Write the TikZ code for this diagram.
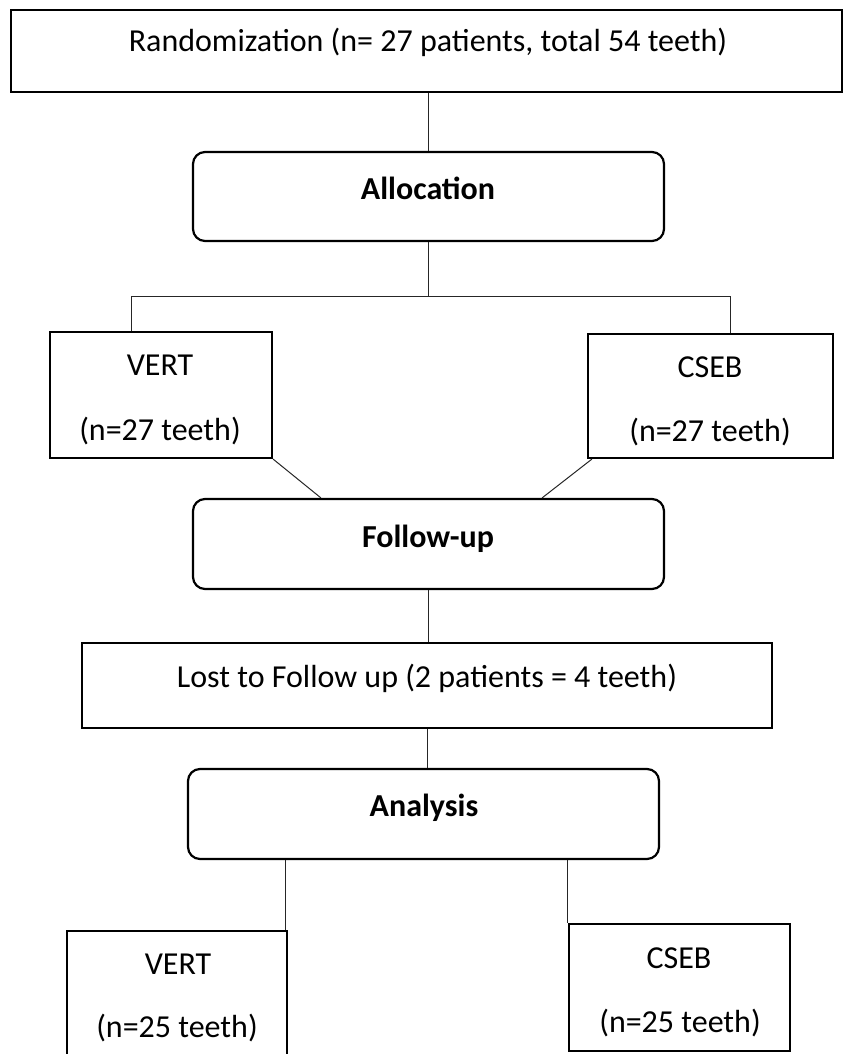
\documentclass[tikz,border=0pt]{standalone}
\usepackage{fontspec}
\setmainfont{Carlito}
\begin{document}
\begin{tikzpicture}[x=1pt,y=-1pt,
  box/.style={draw=black,line width=2.2pt,inner sep=0pt,fill=none},
  rbox/.style={box,rounded corners=12pt},
  txt/.style={anchor=base,inner sep=0pt,font=\fontsize{32}{38}\selectfont},
  btxt/.style={txt,font=\fontsize{32}{38}\selectfont\bfseries},
  conn/.style={draw=black!85,line width=1pt}]
\useasboundingbox (0,0) rectangle (844,1054);
\clip (0,0) rectangle (844,1054);
% boxes
\node[box,minimum width=831pt,minimum height=82pt] (rand) at (426.5,51) {};
\node[rbox,minimum width=471pt,minimum height=89pt] (alloc) at (428.5,196.5) {};
\node[box,minimum width=222pt,minimum height=126pt] (vert1) at (161,395) {};
\node[box,minimum width=245pt,minimum height=124pt] (cseb1) at (710.5,396) {};
\node[rbox,minimum width=471pt,minimum height=90pt] (follow) at (428.5,544) {};
\node[box,minimum width=690pt,minimum height=85pt] (lost) at (427,685.5) {};
\node[rbox,minimum width=471pt,minimum height=90pt] (ana) at (423.5,814) {};
\node[box,minimum width=220pt,minimum height=139pt] (vert2) at (177,1000.5) {};
\node[box,minimum width=221pt,minimum height=127pt] (cseb2) at (679.5,987.5) {};
% texts
\node[txt] (trand) at (428,52) {Randomization (n= 27 patients, total 54 teeth)};
\node[btxt] (talloc) at (428,199) {Allocation};
\node[txt] (tv1a) at (160,375) {VERT};
\node[txt] (tv1b) at (160,440) {(n=27 teeth)};
\node[txt] (tc1a) at (710,377) {CSEB};
\node[txt] (tc1b) at (710,441) {(n=27 teeth)};
\node[btxt] (tfollow) at (428,547) {Follow-up};
\node[txt] (tlost) at (427,687) {Lost to Follow up (2 patients = 4 teeth)};
\node[btxt] (tana) at (424,816) {Analysis};
\node[txt] (tv2a) at (178,974) {VERT};
\node[txt] (tv2b) at (177,1037) {(n=25 teeth)};
\node[txt] (tc2a) at (679,968) {CSEB};
\node[txt] (tc2b) at (680,1032) {(n=25 teeth)};
% connectors
\coordinate (fl) at (131,296);
\coordinate (fr) at (730,296);
\draw[conn] (rand.south -| alloc.north) -- (alloc.north);
\draw[conn] (alloc.south) -- (alloc.south |- fl);
\draw[conn] (vert1.north -| fl) -- (fl) -- (fr) -- (cseb1.north -| fr);
\draw[conn] (vert1.south east) -- ([xshift=129pt]follow.north west);
\draw[conn] ([xshift=5pt]cseb1.south west) -- ([xshift=-123pt]follow.north east);
\draw[conn] (follow.south) -- (follow.south |- lost.north);
\draw[conn] (lost.south) -- (lost.south |- ana.north);
\draw[conn] ([xshift=-3pt]vert2.north east |- ana.south) -- ([xshift=-3pt]vert2.north east);
\draw[conn] (cseb2.north west |- ana.south) -- (cseb2.north west);
\end{tikzpicture}
\end{document}
